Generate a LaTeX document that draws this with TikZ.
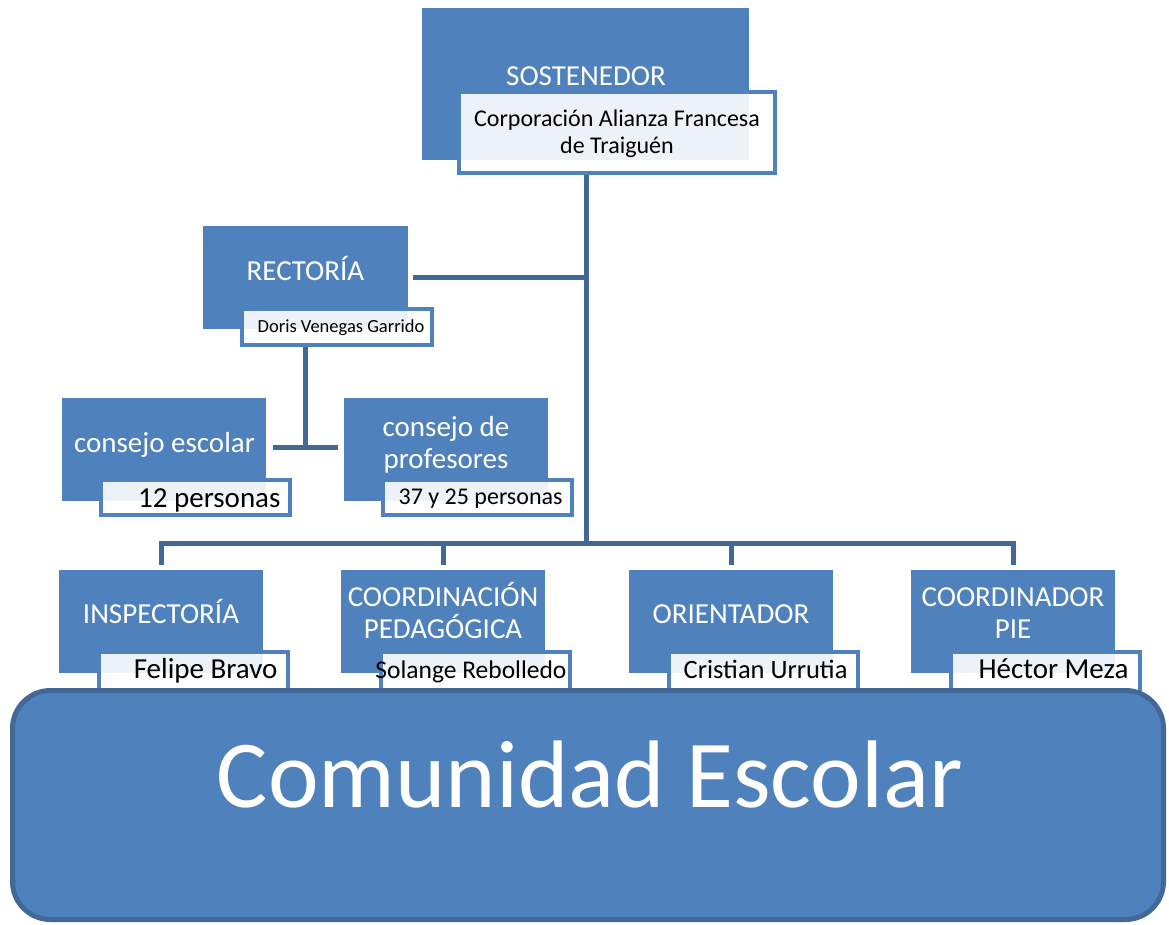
\documentclass[tikz,border=0pt]{standalone}
\usepackage{fontspec}
\setmainfont{Carlito}
\definecolor{boxblue}{RGB}{79,129,189}
\definecolor{linkblue}{RGB}{65,104,150}
\tikzset{
  unitbox/.style={fill=boxblue, inner sep=0pt, minimum width=204pt, minimum height=103pt},
  tagbox/.style={draw=boxblue, line width=4pt, fill=white, fill opacity=0.9, inner sep=0pt},
  titletext/.style={text=white, align=center, anchor=base, font=\fontsize{29}{32}\selectfont},
  whotext/.style={text=black, anchor=base east},
  link/.style={draw=linkblue, line width=5pt},
}

\begin{document}
\begin{tikzpicture}[x=1pt, y=-1pt]
    \useasboundingbox (0,0) rectangle (1169,924);

    % sostenedor
    \node[unitbox, minimum width=327pt, minimum height=152pt] (sost) at (585.5,84) {};
    \node[titletext] (sost-t) at (586,85) {SOSTENEDOR};
    \node[tagbox, minimum width=316pt, minimum height=81pt] (sost-n) at (617,132.5) {};
    \node[align=center, anchor=base, font=\fontsize{24}{26.5}\selectfont] (sost-w) at (617,153) {Corporación Alianza Francesa\\de Traiguén};

    % rectoria
    \node[unitbox, minimum width=205pt] (rect) at (305.5,277.5) {};
    \node[titletext] (rect-t) at (305.5,280) {RECTORÍA};
    \node[tagbox, minimum width=190pt, minimum height=36pt] (rect-n) at (337,327) {};
    \node[whotext, font=\fontsize{18.5}{20}\selectfont] (rect-w) at (428,332) {Doris Venegas Garrido};

    % consejos
    \node[unitbox] (cesc) at (164,449.5) {};
    \node[titletext] (cesc-t) at (164.5,452) {consejo escolar};
    \node[tagbox, minimum width=189pt, minimum height=35pt] (cesc-n) at (195.5,497.5) {};
    \node[whotext, font=\fontsize{29}{32}\selectfont] (cesc-w) at (284,507) {12 personas};

    \node[unitbox] (cprof) at (446,449.5) {};
    \node[titletext] (cprof-t) at (446,468) {consejo de\\profesores};
    \node[tagbox, minimum width=189pt, minimum height=35pt] (cprof-n) at (477.5,497.5) {};
    \node[whotext, font=\fontsize{24}{26}\selectfont] (cprof-w) at (566,504) {37 y 25 personas};

    % bottom row
    \foreach \n/\x/\ty/\title/\who/\size/\wx in {insp/161/623/INSPECTORÍA/Felipe Bravo/29/120,
        cped/443/638/{COORDINACIÓN\\PEDAGÓGICA}/Solange Rebolledo/25.5/127,
        orie/731/623/ORIENTADOR/Cristian Urrutia/26.5/120,
        pie/1013/638/{COORDINADOR\\PIE}/Héctor Meza/29/119} {
        \node[unitbox] (\n) at (\x,621.5) {};
        \node[titletext] (\n-t) at (\x,\ty) {\title};
        \node[tagbox, minimum width=189pt, minimum height=46pt] (\n-n) at (\x+32,675) {};
        \node[whotext, font=\fontsize{\size}{\size}\selectfont] (\n-w) at (\x+\wx,678) {\who};
    }

    \coordinate (bus) at (586,543);
    \coordinate (cjoin) at (305.5,447);
    \draw[link] (bus |- sost-n.south) -- (bus);
    \draw[link, shorten <=5pt] (rect.east) -- (rect.east -| bus);
    \draw[link] (rect |- rect-n.south) -- (cjoin);
    \draw[link, shorten <=7pt, shorten >=6pt] (cesc.east |- cjoin) -- (cprof.west |- cjoin);
    \draw[link, shorten <=5pt, shorten >=5pt] (insp.north) |- (bus) -| (pie.north);
    \draw[link, shorten >=5pt] (cped.north |- bus) -- (cped.north);
    \draw[link, shorten >=5pt] (orie.north |- bus) -- (orie.north);

    % comunidad
    \node[draw=linkblue, line width=5pt, fill=boxblue, rounded corners=38pt, minimum width=1151pt, minimum height=229pt, inner sep=0pt] (com) at (588,805) {};
    \node[text=white, anchor=base, font=\fontsize{96}{100}\selectfont] (com-t) at (590,807) {Comunidad Escolar};
\end{tikzpicture}
\end{document}
